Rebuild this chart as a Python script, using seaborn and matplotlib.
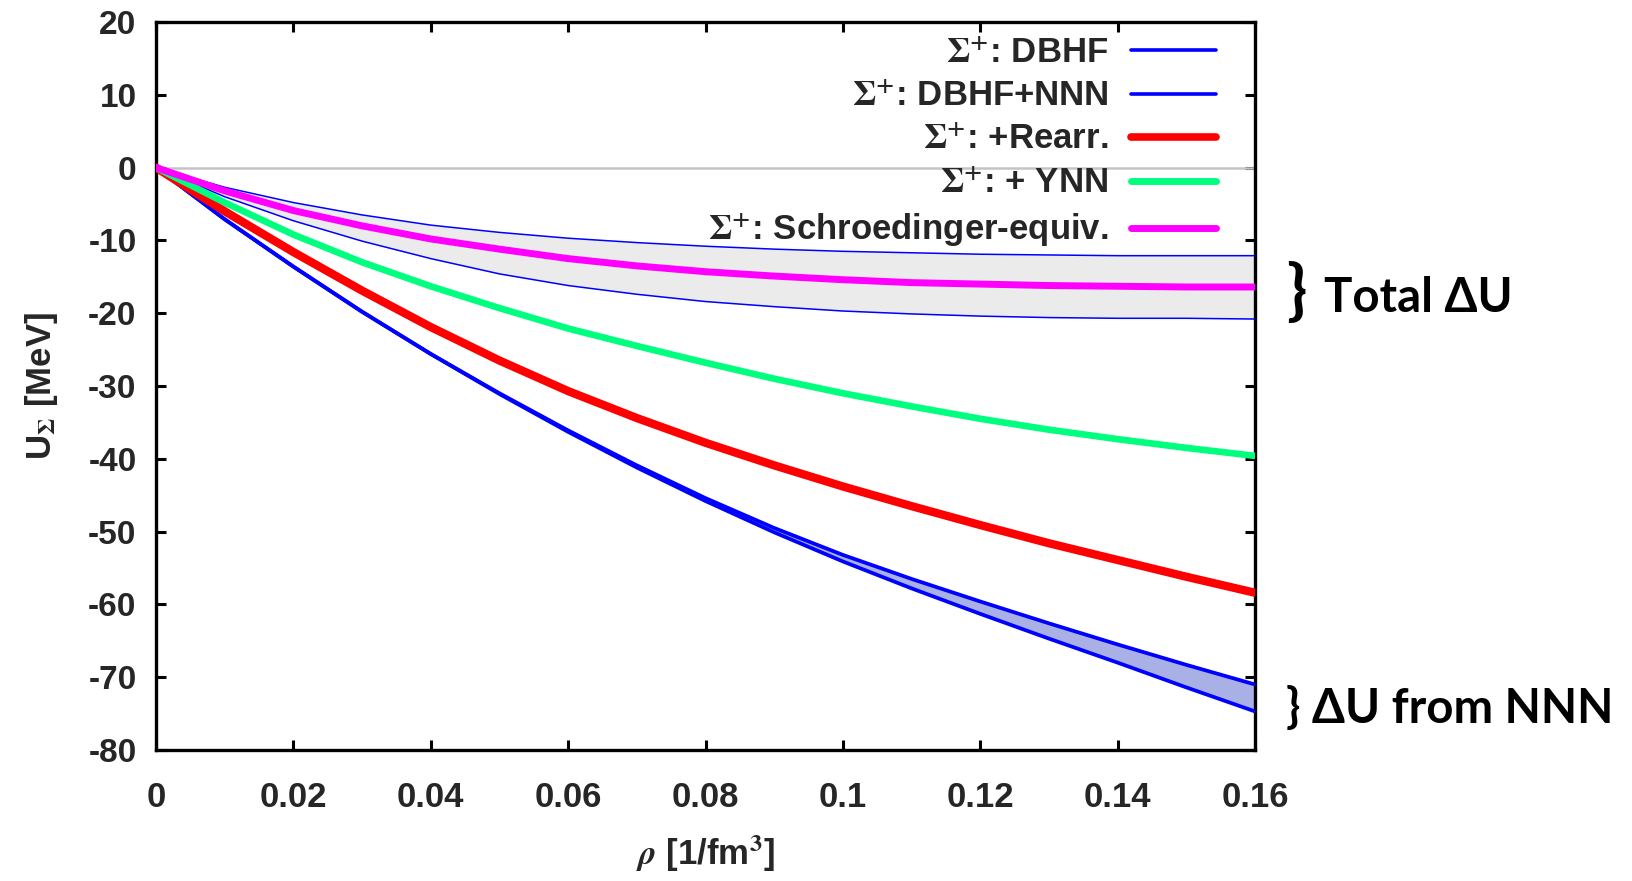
import numpy as np
import pandas as pd
import matplotlib
matplotlib.use("Agg")
import matplotlib.pyplot as plt
import seaborn as sns
from matplotlib.lines import Line2D

# ---------------- data ----------------
rho = [0.00, 0.01, 0.02, 0.03, 0.04, 0.05, 0.06, 0.07, 0.08,
       0.09, 0.10, 0.11, 0.12, 0.13, 0.14, 0.15, 0.16]

dbhf = [0.0, -7.1, -13.6, -19.8, -25.6, -31.1, -36.3, -41.2, -45.8,
        -50.1, -54.1, -57.8, -61.3, -64.7, -68.0, -71.4, -74.7]
dbhf_nnn = [0.0, -7.1, -13.6, -19.8, -25.6, -31.0, -36.1, -40.9, -45.4,
            -49.5, -53.2, -56.5, -59.6, -62.6, -65.5, -68.3, -71.0]
rearr = [0.0, -6.0, -11.6, -16.9, -21.9, -26.5, -30.7, -34.4, -37.8,
         -40.9, -43.8, -46.5, -49.1, -51.6, -53.9, -56.2, -58.4]
ynn = [0.0, -4.8, -9.2, -13.0, -16.3, -19.3, -22.1, -24.5, -26.8,
       -29.0, -31.0, -32.8, -34.5, -36.0, -37.3, -38.5, -39.6]
schroed = [0.0, -3.2, -5.9, -8.0, -9.8, -11.2, -12.5, -13.5, -14.3,
           -14.9, -15.4, -15.8, -16.0, -16.2, -16.3, -16.4, -16.4]
band_upper = [0.0, -2.7, -4.8, -6.5, -7.9, -8.9, -9.7, -10.3, -10.8,
              -11.2, -11.5, -11.7, -11.9, -12.0, -12.1, -12.1, -12.1]
band_lower = [0.0, -4.0, -7.3, -10.1, -12.5, -14.6, -16.2, -17.4, -18.4,
              -19.1, -19.7, -20.1, -20.4, -20.6, -20.7, -20.7, -20.8]

legend_labels = [r"$\Sigma^{\mathbf{+}}$: DBHF",
                 r"$\Sigma^{\mathbf{+}}$: DBHF+NNN",
                 r"$\Sigma^{\mathbf{+}}$: +Rearr.",
                 r"$\Sigma^{\mathbf{+}}$: + YNN",
                 r"$\Sigma^{\mathbf{+}}$: Schroedinger-equiv."]
xticks = [0, 0.02, 0.04, 0.06, 0.08, 0.1, 0.12, 0.14, 0.16]
xticklabels = ["0", "0.02", "0.04", "0.06", "0.08", "0.1", "0.12", "0.14", "0.16"]
yticks = [20, 10, 0, -10, -20, -30, -40, -50, -60, -70, -80]

# ---------------- styling ----------------
sns.set_theme(style="white")
plt.rcParams["font.family"] = ["Liberation Sans", "DejaVu Sans"]
plt.rcParams["font.weight"] = "bold"
plt.rcParams["mathtext.fontset"] = "stix"

BLUE = "#0000ff"
RED = "#ff0000"
GREEN = "#00ff7f"
MAGENTA = "#ff00ff"

fig = plt.figure(figsize=(16.32, 8.81), dpi=100)
ax = fig.add_axes([156 / 1632, 1 - 750 / 881, 1099 / 1632, 728 / 881])

df = pd.DataFrame({"rho": rho, "dbhf": dbhf, "dbhf_nnn": dbhf_nnn,
                   "rearr": rearr, "ynn": ynn, "schroed": schroed,
                   "bu": band_upper, "bl": band_lower})

ax.axhline(0, color="#c4c4c4", lw=1.8, zorder=1)

# bands
ax.fill_between(df["rho"], df["bu"], df["bl"], color="#ebebeb", lw=0, zorder=2)
ax.fill_between(df["rho"], df["dbhf_nnn"], df["dbhf"], color="#a9b0e6", lw=0, zorder=2)

sns.lineplot(data=df, x="rho", y="bu", color=BLUE, lw=1.1, ax=ax, zorder=3)
sns.lineplot(data=df, x="rho", y="bl", color=BLUE, lw=1.1, ax=ax, zorder=3)
sns.lineplot(data=df, x="rho", y="dbhf", color=BLUE, lw=2.7, ax=ax, zorder=4)
sns.lineplot(data=df, x="rho", y="dbhf_nnn", color=BLUE, lw=2.7, ax=ax, zorder=4)
sns.lineplot(data=df, x="rho", y="rearr", color=RED, lw=6.0, ax=ax, zorder=5)
sns.lineplot(data=df, x="rho", y="ynn", color=GREEN, lw=4.8, ax=ax, zorder=5)
sns.lineplot(data=df, x="rho", y="schroed", color=MAGENTA, lw=5.0, ax=ax, zorder=6)

ax.set_xlim(0, 0.16)
ax.set_ylim(-80, 20)
ax.set_xticks(xticks)
ax.set_xticklabels(xticklabels)
ax.set_yticks(yticks)
ax.set_yticklabels([str(v) for v in yticks])

for s in ax.spines.values():
    s.set_color("black")
    s.set_linewidth(2.4)
    s.set_visible(True)

ax.tick_params(axis="both", direction="in", length=7, width=2.2, color="black",
               top=True, right=True, bottom=True, left=True)
ax.tick_params(axis="x", pad=22, labelsize=25)
ax.tick_params(axis="y", pad=14, labelsize=24)
for lab in ax.get_xticklabels() + ax.get_yticklabels():
    lab.set_fontweight("bold")

ax.set_xlabel(r"$\rho$ [1/fm$^3$]", fontsize=25, fontweight="bold", labelpad=14)
ax.set_ylabel(r"U$_\Sigma$ [MeV]", fontsize=25, fontweight="bold", labelpad=20)

# legend (text right-aligned, handle after text)
handles = [Line2D([], [], color=BLUE, lw=2.6),
           Line2D([], [], color=BLUE, lw=2.6),
           Line2D([], [], color=RED, lw=5.5),
           Line2D([], [], color=GREEN, lw=5.0),
           Line2D([], [], color=MAGENTA, lw=5.0)]
leg = ax.legend(handles, legend_labels, loc="upper right",
                bbox_to_anchor=(0.9645, 0.98), markerfirst=False, frameon=False,
                fontsize=25, handlelength=2.45, handletextpad=0.65,
                labelspacing=0.3, borderpad=0, borderaxespad=0)
for t in leg.get_texts():
    t.set_fontweight("bold")

# right-side annotations
fam = ["Lato", "DejaVu Sans"]
fig.text(1286 / 1632, 1 - 294 / 881, "}", fontsize=48, fontweight="bold",
         family=fam, ha="left", va="center", color="black")
fig.text(1324 / 1632, 1 - 298 / 881, "Total ΔU", fontsize=34, fontweight="bold",
         family=fam, ha="left", va="center", color="black")
fig.text(1286 / 1632, 1 - 708 / 881, "} ΔU from NNN", fontsize=34, fontweight="bold",
         family=fam, ha="left", va="center", color="black")

fig.savefig("out.png", dpi=100)
